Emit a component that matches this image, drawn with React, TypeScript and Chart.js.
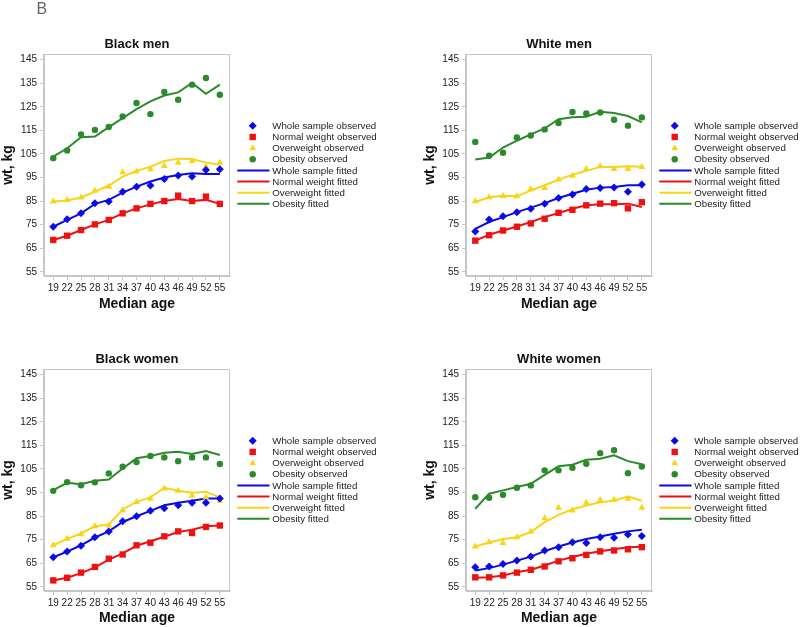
import React, { useEffect, useRef } from "react";
import { Chart, registerables } from "chart.js";
Chart.register(...registerables);

const FONT = "'Liberation Sans', Arial, Helvetica, sans-serif";

const ages = [19, 22, 25, 28, 31, 34, 37, 40, 43, 46, 49, 52, 55];
const yTicks = [55, 65, 75, 85, 95, 105, 115, 125, 135, 145];
const legendLabels = [
  "Whole sample observed",
  "Normal weight observed",
  "Overweight observed",
  "Obesity observed",
  "Whole sample fitted",
  "Normal weight fitted",
  "Overweight fitted",
  "Obesity fitted",
];
const panelTitles = ["Black men", "White men", "Black women", "White women"];

// Black men
const bmWholeObs = [74.1, 77.3, 79.8, 84.1, 84.8, 89.0, 91.1, 91.6, 94.4, 95.8, 95.4, 98.2, 98.5];
const bmNormalObs = [68.5, 70.3, 72.7, 75.1, 77.0, 79.8, 81.9, 83.8, 85.0, 87.3, 85.0, 86.9, 83.8];
const bmOverObs = [84.8, 85.5, 86.5, 89.4, 91.1, 97.2, 97.5, 98.5, 99.9, 101.3, 102.0, 99.6, 101.3];
const bmObeseObs = [103.2, 106.5, 113.3, 115.2, 116.4, 120.9, 126.6, 121.9, 131.3, 128.0, 134.4, 137.2, 130.1];
const bmWholeFit = [74.1, 77.0, 79.8, 83.8, 85.5, 88.6, 91.1, 93.3, 95.0, 96.1, 96.8, 96.5, 96.5];
const bmNormalFit = [68.5, 70.3, 72.7, 75.1, 77.0, 79.8, 81.9, 83.6, 85.0, 85.9, 85.0, 85.5, 83.8];
const bmOverFit = [84.8, 85.2, 86.5, 89.0, 91.6, 95.4, 97.8, 99.6, 102.0, 103.0, 102.8, 101.3, 100.4];
const bmObeseFit = [103.9, 107.4, 112.1, 112.4, 116.4, 120.2, 124.0, 127.3, 129.8, 131.1, 135.1, 130.5, 134.4];

// White men
const wmWholeObs = [72.1, 77.2, 78.6, 80.3, 81.7, 83.9, 86.3, 87.8, 90.1, 90.5, 90.7, 89.0, 92.0];
const wmNormalObs = [68.2, 70.5, 72.5, 74.1, 75.5, 77.5, 80.0, 81.3, 83.2, 83.9, 84.1, 81.9, 84.5];
const wmOverObs = [84.9, 86.6, 87.1, 87.0, 90.0, 90.5, 94.1, 95.7, 98.6, 99.8, 98.6, 98.6, 99.5];
const wmObeseObs = [110.1, 104.2, 105.5, 112.0, 112.8, 115.4, 118.1, 122.8, 122.2, 122.6, 119.5, 117.0, 120.5];
const wmWholeFit = [73.2, 76.1, 78.2, 80.3, 82.2, 84.1, 86.3, 88.1, 89.8, 90.7, 91.0, 91.7, 91.7];
const wmNormalFit = [68.2, 70.7, 72.5, 74.2, 76.1, 78.2, 79.9, 81.7, 83.2, 83.6, 83.6, 83.9, 82.5];
const wmOverFit = [84.6, 86.6, 87.3, 87.0, 89.5, 91.7, 94.1, 96.2, 97.8, 99.5, 99.5, 99.8, 99.6];
const wmObeseFit = [102.6, 103.5, 107.7, 110.6, 113.3, 115.8, 119.7, 120.6, 120.8, 122.9, 122.4, 121.1, 118.4];

// Black women
const bwWholeObs = [67.5, 70.0, 72.4, 76.0, 78.5, 82.8, 84.9, 87.2, 88.3, 89.6, 90.6, 90.6, 92.4];
const bwNormalObs = [57.7, 58.8, 61.0, 63.4, 66.9, 68.7, 72.6, 73.7, 76.4, 78.5, 77.8, 80.4, 81.0];
const bwOverObs = [72.6, 75.4, 77.3, 80.7, 81.0, 87.5, 91.0, 92.3, 96.7, 95.7, 93.7, 92.9, 91.5];
const bwObeseObs = [95.7, 99.4, 98.1, 99.3, 103.1, 105.9, 107.9, 110.5, 109.9, 108.3, 109.9, 109.9, 107.1];
const bwWholeFit = [67.5, 69.9, 72.6, 75.9, 78.5, 82.5, 84.9, 87.2, 89.6, 90.6, 91.5, 92.4, 92.4];
const bwNormalFit = [57.7, 58.8, 60.8, 63.2, 66.5, 69.2, 72.4, 74.3, 76.2, 78.2, 79.2, 80.7, 81.0];
const bwOverFit = [72.6, 75.3, 77.6, 80.7, 81.4, 87.8, 91.0, 92.9, 97.0, 95.7, 94.9, 95.3, 92.9];
const bwObeseFit = [96.0, 99.1, 98.5, 100.0, 100.5, 105.2, 109.5, 110.5, 111.9, 112.3, 111.3, 112.6, 110.9];

// White women
const wwWholeObs = [63.3, 63.6, 64.7, 66.1, 67.8, 70.4, 71.8, 73.9, 73.6, 76.0, 75.8, 77.2, 76.5];
const wwNormalObs = [59.0, 59.0, 59.8, 61.0, 62.2, 63.6, 65.8, 67.1, 68.5, 70.0, 70.4, 70.9, 71.8];
const wwOverObs = [72.1, 73.9, 73.6, 76.0, 78.3, 84.1, 88.5, 87.4, 90.6, 91.8, 91.9, 92.3, 88.5];
const wwObeseObs = [93.0, 92.8, 94.0, 97.0, 98.0, 104.4, 104.4, 105.5, 107.2, 111.7, 112.9, 103.2, 106.0];
const wwWholeFit = [61.9, 62.9, 64.4, 66.1, 67.8, 70.1, 72.1, 73.8, 75.3, 76.3, 77.5, 78.5, 79.2];
const wwNormalFit = [58.8, 59.0, 59.8, 61.2, 62.2, 64.0, 66.1, 67.6, 69.0, 70.1, 70.9, 71.8, 72.0];
const wwOverFit = [72.1, 73.8, 75.3, 76.0, 78.2, 82.4, 85.5, 87.9, 89.5, 90.9, 91.6, 93.3, 91.5];
const wwObeseFit = [88.1, 94.5, 95.9, 97.3, 98.7, 102.5, 106.1, 106.8, 108.9, 109.3, 110.8, 108.3, 107.0];

const COLORS = ["#0a0ae6", "#ee1111", "#f8d516", "#2b8a2b"];
const STYLES = ["rectRot", "rect", "triangle", "circle"];
const RADII = [4, 4.5, 4, 3.2];

type PanelDef = {
  title: string;
  obs: number[][];
  fit: number[][];
  left: number;
  top: number;
  width: number;
  height: number;
  showB: boolean;
};

const panels: PanelDef[] = [
  { title: panelTitles[0], obs: [bmWholeObs, bmNormalObs, bmOverObs, bmObeseObs], fit: [bmWholeFit, bmNormalFit, bmOverFit, bmObeseFit], left: 0, top: 0, width: 422, height: 315, showB: true },
  { title: panelTitles[1], obs: [wmWholeObs, wmNormalObs, wmOverObs, wmObeseObs], fit: [wmWholeFit, wmNormalFit, wmOverFit, wmObeseFit], left: 422, top: 0, width: 378, height: 315, showB: false },
  { title: panelTitles[2], obs: [bwWholeObs, bwNormalObs, bwOverObs, bwObeseObs], fit: [bwWholeFit, bwNormalFit, bwOverFit, bwObeseFit], left: 0, top: 315, width: 422, height: 312, showB: false },
  { title: panelTitles[3], obs: [wwWholeObs, wwNormalObs, wwOverObs, wwObeseObs], fit: [wwWholeFit, wwNormalFit, wwOverFit, wwObeseFit], left: 422, top: 315, width: 378, height: 312, showB: false },
];

function drawMarker(ctx: CanvasRenderingContext2D, kind: number, x: number, y: number, color: string) {
  ctx.save();
  ctx.fillStyle = color;
  ctx.beginPath();
  if (kind === 0) {
    const r = 4;
    ctx.moveTo(x, y - r);
    ctx.lineTo(x + r, y);
    ctx.lineTo(x, y + r);
    ctx.lineTo(x - r, y);
    ctx.closePath();
  } else if (kind === 1) {
    ctx.rect(x - 3.2, y - 3.2, 6.4, 6.4);
  } else if (kind === 2) {
    ctx.moveTo(x, y - 3.8);
    ctx.lineTo(x + 3.4, y + 2.2);
    ctx.lineTo(x - 3.4, y + 2.2);
    ctx.closePath();
  } else {
    ctx.arc(x, y, 3.2, 0, Math.PI * 2);
  }
  ctx.fill();
  ctx.restore();
}

function makeDecor(p: PanelDef) {
  return {
    id: "decor",
    beforeDatasetsDraw(chart: any) {
      const { ctx, chartArea } = chart;
      ctx.save();
      ctx.strokeStyle = "#c6c6c6";
      ctx.lineWidth = 1;
      ctx.strokeRect(
        Math.round(chartArea.left) - 0.5,
        Math.round(chartArea.top) + 0.5,
        Math.round(chartArea.right - chartArea.left),
        Math.round(chartArea.bottom - chartArea.top) - 1
      );
      ctx.restore();
    },
    afterDraw(chart: any) {
      const { ctx, chartArea } = chart;
      ctx.save();
      // panel title
      ctx.fillStyle = "#111";
      ctx.font = `bold 13px ${FONT}`;
      ctx.textAlign = "center";
      ctx.textBaseline = "middle";
      ctx.fillText(p.title, (chartArea.left + chartArea.right) / 2, 44.5);
      // panel letter
      if (p.showB) {
        ctx.fillStyle = "#666";
        ctx.font = `16px ${FONT}`;
        ctx.textAlign = "left";
        ctx.textBaseline = "alphabetic";
        ctx.fillText("B", 36.5, 14);
      }
      // legend
      const x0 = chartArea.right;
      ctx.font = `9.7px ${FONT}`;
      ctx.textAlign = "left";
      ctx.textBaseline = "middle";
      for (let i = 0; i < legendLabels.length; i++) {
        const y = chartArea.top + 71.8 + i * 11.15;
        const c = COLORS[i % 4];
        if (i < 4) {
          drawMarker(ctx, i, x0 + 22.7, y, c);
        } else {
          ctx.strokeStyle = c;
          ctx.lineWidth = 2;
          ctx.beginPath();
          ctx.moveTo(x0 + 7.3, y);
          ctx.lineTo(x0 + 39.5, y);
          ctx.stroke();
        }
        ctx.fillStyle = "#222";
        ctx.fillText(legendLabels[i], x0 + 42.3, y + 0.5);
      }
      ctx.restore();
    },
  };
}

function PanelChart({ p }: { p: PanelDef }) {
  const ref = useRef<HTMLCanvasElement>(null);
  useEffect(() => {
    const datasets: any[] = [];
    for (let k = 0; k < 4; k++) {
      datasets.push({
        label: legendLabels[k],
        data: ages.map((a, i) => ({ x: a, y: p.obs[k][i] })),
        showLine: false,
        pointStyle: STYLES[k],
        pointRadius: RADII[k],
        pointBackgroundColor: COLORS[k],
        pointBorderColor: COLORS[k],
        pointBorderWidth: 0,
        borderColor: COLORS[k],
        backgroundColor: COLORS[k],
        order: 1,
      });
    }
    for (let k = 0; k < 4; k++) {
      datasets.push({
        label: legendLabels[k + 4],
        data: ages.map((a, i) => ({ x: a, y: p.fit[k][i] })),
        showLine: true,
        pointRadius: 0,
        borderColor: COLORS[k],
        backgroundColor: COLORS[k],
        borderWidth: 2,
        tension: 0,
        fill: false,
        order: 2,
      });
    }
    const xAxisH = p.height - 276;
    const chart = new Chart(ref.current as HTMLCanvasElement, {
      type: "line",
      data: { datasets },
      plugins: [makeDecor(p)],
      options: {
        animation: false,
        responsive: false,
        maintainAspectRatio: false,
        devicePixelRatio: 1,
        layout: { padding: { top: 54, left: 0, bottom: 0, right: p.width - 230 } },
        plugins: {
          legend: { display: false },
          tooltip: { enabled: false },
          title: { display: false },
        },
        scales: {
          x: {
            type: "linear",
            min: 17,
            max: 57.2,
            afterFit: (s: any) => {
              s.height = xAxisH;
            },
            afterBuildTicks: (s: any) => {
              s.ticks = ages.map((v) => ({ value: v }));
            },
            grid: { display: true, drawOnChartArea: false, drawTicks: true, tickLength: 4, color: "#c6c6c6" },
            border: { display: true, color: "#c6c6c6" },
            ticks: {
              autoSkip: false,
              maxRotation: 0,
              minRotation: 0,
              padding: 2,
              color: "#222",
              font: { family: FONT, size: 10 },
              callback: (v: any) => String(v),
            },
            title: {
              display: true,
              text: "Median age",
              color: "#111",
              font: { family: FONT, size: 14, weight: "bold" },
              padding: { top: 0, bottom: xAxisH > 37 ? 2 : 0 },
            },
          },
          y: {
            type: "linear",
            min: 53.2,
            max: 147.4,
            afterFit: (s: any) => {
              s.width = 44;
            },
            afterBuildTicks: (s: any) => {
              s.ticks = yTicks.map((v) => ({ value: v }));
            },
            grid: { display: true, drawOnChartArea: false, drawTicks: true, tickLength: 4, color: "#c6c6c6" },
            border: { display: true, color: "#c6c6c6" },
            ticks: {
              padding: 3,
              color: "#222",
              font: { family: FONT, size: 10 },
              callback: (v: any) => String(v),
            },
            title: {
              display: true,
              text: "wt, kg",
              color: "#111",
              font: { family: FONT, size: 14, weight: "bold" },
              padding: { top: 0, bottom: 0 },
            },
          },
        },
      } as any,
    });
    return () => chart.destroy();
  }, [p]);
  return (
    <canvas
      ref={ref}
      width={p.width}
      height={p.height}
      style={{ position: "absolute", left: p.left, top: p.top, width: p.width, height: p.height }}
    />
  );
}

export default function App() {
  return (
    <div style={{ position: "absolute", left: 0, top: 0, width: 800, height: 627, background: "#fff", overflow: "hidden" }}>
      {panels.map((p) => (
        <PanelChart key={p.title} p={p} />
      ))}
    </div>
  );
}
